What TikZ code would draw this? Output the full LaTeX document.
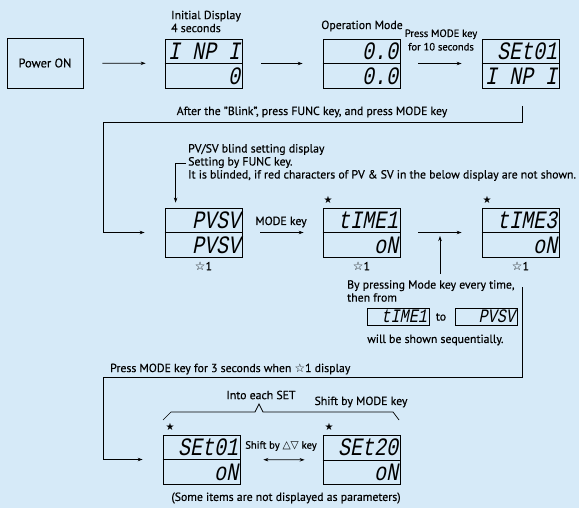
\documentclass[tikz,border=0pt]{standalone}
\usepackage{fontspec}
\setmainfont{PT Sans}[FakeBold=0.4]
\newfontfamily\symfont{DejaVu Sans}
\newfontfamily\lcdfont[FakeSlant=0.2,FakeStretch=0.8]{Liberation Mono}
\usetikzlibrary{arrows.meta}
\definecolor{bgblue}{RGB}{214,234,248}

% one LCD panel: name, x, y, upper text, lower text
\newcommand{\lcdpanel}[5]{%
  \node[panel] (#1) at (#2,#3) {};
  \draw[line width=0.8pt] (#1.west) -- (#1.east);
  \node[lcd] (#1-up) at ([xshift=-2pt,yshift=12.5pt]#1.east) {#4};
  \node[lcd] (#1-lo) at ([xshift=-2pt,yshift=-12.5pt]#1.east) {#5};
}

\begin{document}
\begin{tikzpicture}[x=1pt,y=-1pt,
  panel/.style={draw, line width=0.8pt, minimum width=77pt, minimum height=49pt, inner sep=0pt},
  lcd/.style={font=\lcdfont\fontsize{25}{25}\selectfont, inner sep=0pt, anchor=east},
  minipanel/.style={draw, line width=0.7pt, minimum width=62pt, minimum height=17pt, inner sep=0pt,
    text width=58pt, align=right, font=\lcdfont\fontsize{19}{19}\selectfont},
  arr/.style={-{Stealth[length=5pt,width=3.5pt]}, line width=0.7pt},
  lbl/.style={font=\fontsize{11.8}{13}\selectfont, inner sep=0pt},
  small/.style={font=\fontsize{10.6}{13.5}\selectfont, inner sep=0pt},
  star/.style={font=\symfont\fontsize{10}{10}\selectfont, inner sep=0pt}]

  % Background
  \fill[bgblue] (0,0) rectangle (579,508);
  \useasboundingbox (0,0) rectangle (579,508);

  % Top row
  \node[draw, line width=0.8pt, minimum width=76pt, minimum height=50pt,
    font=\fontsize{12.5}{13}\selectfont] (pwr) at (45,63) {Power ON};
  \lcdpanel{init}{203.5}{63.5}{I NP I}{0}
  \lcdpanel{opmode}{361.5}{63.5}{0.0}{0.0}
  \lcdpanel{setinp}{520.5}{63.5}{SEt01}{I NP I}

  \node[lbl, anchor=west, align=left] (initlbl) at (171,21.5) {Initial Display\\4 seconds};
  \node[lbl] (oplbl) at (362,26) {Operation Mode};
  \node[small, align=center] (presslbl) at (441,40) {Press MODE key\\for 10 seconds};

  \draw[arr, shorten <=19pt, shorten >=19pt] (pwr) -- (init);
  \draw[arr, shorten <=19pt, shorten >=20pt] (init) -- (opmode);
  \draw[arr, shorten <=18pt, shorten >=20pt] (opmode) -- (setinp);

  % Back to the blind setting
  \node[lbl] (blinklbl) at (312,112) {After the "Blink", press FUNC key, and press MODE key};
  \coordinate (fbTop) at (522,106);
  \coordinate (fbLeft) at (103,122);

  % Second row
  \lcdpanel{pvsv}{203.5}{232.5}{PVSV}{PVSV}
  \lcdpanel{time1}{361.5}{232.5}{tIME1}{oN}
  \lcdpanel{time3}{520.5}{232.5}{tIME3}{oN}

  \draw[arr, shorten >=20pt] (fbTop) |- (fbLeft) |- (pvsv.west);

  \node[lbl, anchor=west, align=left] (blindlbl) at (188,162.5)
    {PV/SV blind setting display\\Setting by FUNC key.\\It is blinded, if red characters of PV \& SV in the below display are not shown.};
  \coordinate (blTick) at (186,163);
  \draw[arr] (blTick) -| ([xshift=11pt,yshift=5pt]pvsv.north west);

  \node[lbl] (modelbl) at (281,222) {MODE key};
  \draw[arr, shorten <=18pt, shorten >=19pt] (pvsv) -- (time1);
  \draw[arr, shorten <=18pt, shorten >=20pt] (time1) -- (time3);

  \node[star] (stA) at (328,200) {★};
  \node[star] (stB) at (487,200) {★};
  \node[lbl] (wA) at (203.5,266) {{\symfont ☆}1};
  \node[lbl] (wB) at (361.5,266) {{\symfont ☆}1};
  \node[lbl] (wC) at (520.5,266) {{\symfont ☆}1};

  % Mode key every time
  \coordinate (upFoot) at (440,274);
  \coordinate (upHead) at (440,236);
  \draw[arr] (upFoot) -- (upHead);
  \node[lbl, anchor=west, align=left] (bylbl) at (347,291) {By pressing Mode key every time,\\then from};
  \node[minipanel] (miniT) at (398,316.5) {tIME1};
  \node[lbl] (tolbl) at (441,317) {to};
  \node[minipanel] (miniP) at (486,316.5) {PVSV};
  \node[lbl, anchor=west] (seqlbl) at (367,340) {will be shown sequentially.};

  % Into the SET items
  \node[lbl, anchor=west] (p3lbl) at (110,369) {Press MODE key for 3 seconds when {\symfont ☆}1 display};
  \coordinate (rlTop) at (522,287);
  \coordinate (rlLeft) at (103,377);

  \lcdpanel{set01}{201.5}{459.5}{SEt01}{oN}
  \lcdpanel{set20}{361.5}{460}{SEt20}{oN}
  \draw[arr, shorten >=20pt] (rlTop) |- (rlLeft) |- (set01.west);

  \node[star] (stC) at (170,427) {★};
  \node[star] (stD) at (329,427) {★};

  % Brace
  \draw[line width=0.7pt] (163,420) -- (171,412) -- (255,412) -- (259,404) -- (263,412) -- (393,412) -- (399,420);
  \node[lbl] (intolbl) at (261,395) {Into each SET};
  \node[lbl] (shiftlbl) at (361,402) {Shift by MODE key};

  \node[small] (shiftkey) at (281,446) {Shift by {\symfont △▽} key};
  \draw[arr, {Stealth[length=5pt,width=3.5pt]}-{Stealth[length=5pt,width=3.5pt]}, shorten <=23pt, shorten >=18pt] (set01) -- (set20);

  \node[lbl] (somelbl) at (286,498) {(Some items are not displayed as parameters)};
\end{tikzpicture}
\end{document}
